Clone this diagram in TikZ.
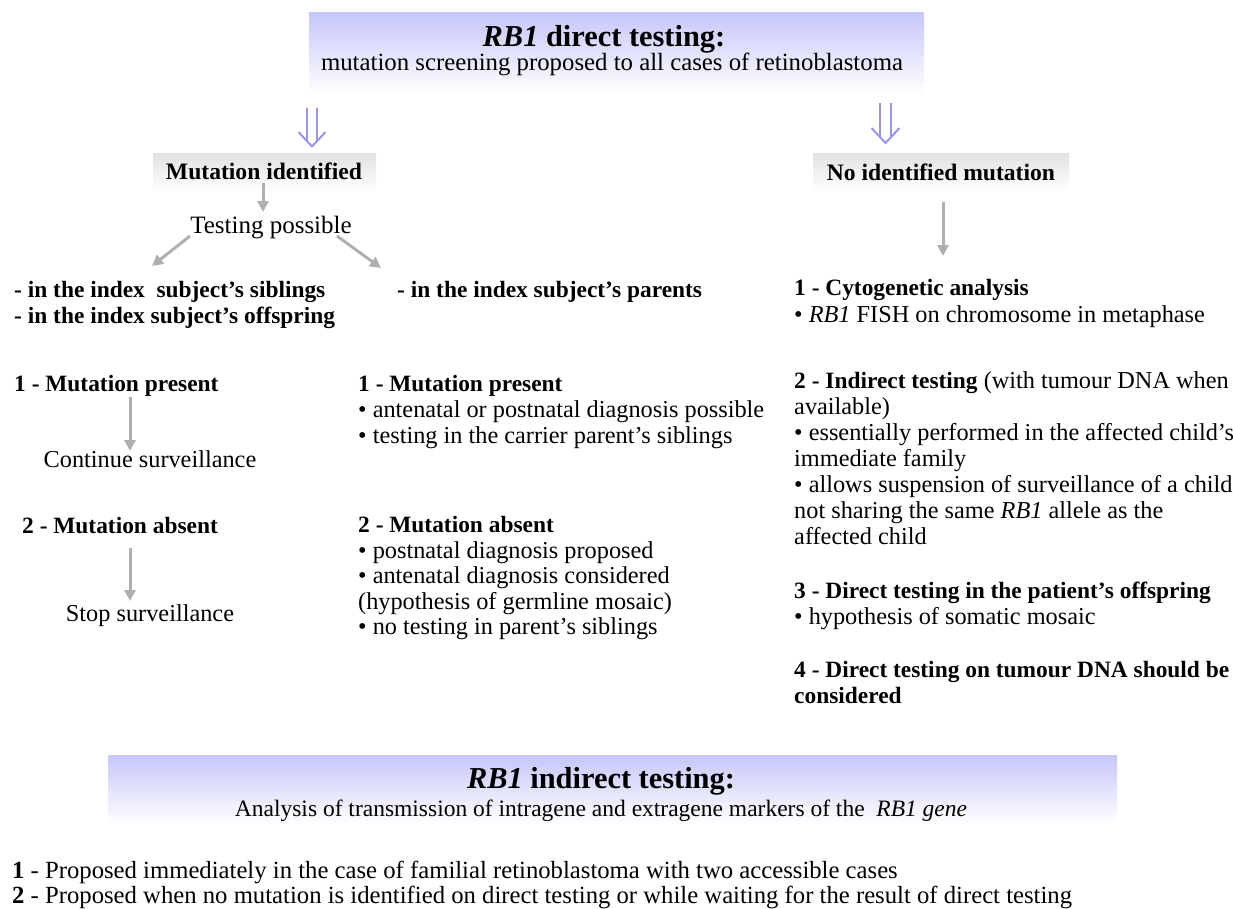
\documentclass[tikz,border=0pt]{standalone}
\usepackage{fontspec}
\setmainfont{Liberation Serif}
\usetikzlibrary{arrows.meta}
\definecolor{lav}{RGB}{198,198,250}
\definecolor{arrblue}{RGB}{150,150,240}
\definecolor{garr}{RGB}{175,175,175}
\definecolor{gbox}{RGB}{226,226,226}
\newcommand\bodyf{\fontsize{24.3}{26}\selectfont}
\newcommand\boldf{\fontsize{23.4}{26}\selectfont\bfseries}
\newcommand\botf{\fontsize{24.7}{26}\selectfont}
\newcommand\titf{\fontsize{30.4}{34}\selectfont\bfseries}
\newcommand\rbi{\textit{RB1}}
\newcommand\bb[1]{{\boldf #1}}
\begin{document}
\begin{tikzpicture}[x=1pt,y=-1pt,
  txt/.style={anchor=base west,inner sep=0pt,font=\bodyf},
  btxt/.style={anchor=base west,inner sep=0pt,font=\boldf},
  ctxt/.style={anchor=base,inner sep=0pt,font=\bodyf},
  garrow/.style={draw=garr,line width=3pt,-{Triangle[length=11pt,width=11pt]}},
  dbl/.style={draw=arrblue,line width=2pt},
  ]
\useasboundingbox[fill=white] (0,0) rectangle (1233,908);

% top banner
\shade[top color=lav,bottom color=white] (309,12) rectangle (924,94);
\node[anchor=base,inner sep=0pt,font=\titf] (t1) at (604,46) {\rbi{} direct testing:};
\node[anchor=base,inner sep=0pt,font=\fontsize{24.8}{26}\selectfont] (t1s) at (612,70) {mutation screening proposed to all cases of retinoblastoma};

% double arrows
\draw[dbl] (307,108) -- (307,140.5) (317,108) -- (317,140.5);
\draw[dbl,line join=miter] (298.5,132) -- (312,146.5) -- (325.5,132);
\draw[dbl] (880,103) -- (880,137) (891,103) -- (891,137);
\draw[dbl,line join=miter] (871.5,128) -- (885.5,143) -- (899.5,128);

% grey boxes
\shade[top color=gbox,bottom color=white] (153,153) rectangle (376,192);
\node[anchor=base,inner sep=0pt,font=\fontsize{23.6}{26}\selectfont\bfseries] (mi) at (264,179) {Mutation identified};
\shade[top color=gbox,bottom color=white] (813,153) rectangle (1069,192);
\node[anchor=base,inner sep=0pt,font=\fontsize{23.6}{26}\selectfont\bfseries] (nim) at (941,180) {No identified mutation};

% left branch
\node[anchor=base,inner sep=0pt,font=\fontsize{25}{26}\selectfont] (tp) at (271,233) {Testing possible};
\coordinate (a1s) at (263,183); \coordinate (a1e) at (263,212);
\draw[garrow] (a1s) -- (a1e);
\coordinate (a2s) at (190,236); \coordinate (a2e) at (152,266);
\draw[garrow] (a2s) -- (a2e);
\coordinate (a3s) at (337,236); \coordinate (a3e) at (381,268);
\draw[garrow] (a3s) -- (a3e);

\node[btxt] (s1) at (14,297) {- in the index\ \ subject's siblings};
\node[btxt] (s2) at (14,323) {- in the index subject's offspring};
\node[btxt] (p1) at (397,297) {- in the index subject's parents};

\node[btxt] (l1) at (14,391) {1 - Mutation present};
\coordinate (a4s) at (130,397); \coordinate (a4e) at (130,451);
\draw[garrow] (a4s) -- (a4e);
\node[ctxt] (l2) at (150,467) {Continue surveillance};
\node[btxt] (l3) at (22,533) {2 - Mutation absent};
\coordinate (a5s) at (130,548); \coordinate (a5e) at (130,601);
\draw[garrow] (a5s) -- (a5e);
\node[ctxt] (l4) at (150,621) {Stop surveillance};

% middle column
\node[btxt] (m1) at (358,391) {1 - Mutation present};
\node[txt] (m2) at (358,417) {\textbullet\ antenatal or postnatal diagnosis possible};
\node[txt] (m3) at (358,443) {\textbullet\ testing in the carrier parent's siblings};
\node[btxt] (m4) at (358,532) {2 - Mutation absent};
\node[txt] (m5) at (358,558) {\textbullet\ postnatal diagnosis proposed};
\node[txt] (m6) at (358,583) {\textbullet\ antenatal diagnosis considered};
\node[txt] (m7) at (358,609) {(hypothesis of germline mosaic)};
\node[txt] (m8) at (358,634) {\textbullet\ no testing in parent's siblings};

% right column
\coordinate (a6s) at (943,202); \coordinate (a6e) at (943,256);
\draw[garrow] (a6s) -- (a6e);
\node[btxt] (r1) at (794,295) {1 - Cytogenetic analysis};
\node[txt] (r2) at (794,322) {\textbullet\ \rbi{} FISH on chromosome in metaphase};
\node[txt] (r3) at (794,388) {\bb{2 - Indirect testing} (with tumour DNA when};
\node[txt] (r4) at (794,414) {available)};
\node[txt] (r5) at (794,440) {\textbullet\ essentially performed in the affected child's};
\node[txt] (r6) at (794,466) {immediate family};
\node[txt] (r7) at (794,492) {\textbullet\ allows suspension of surveillance of a child};
\node[txt] (r8) at (794,518) {not sharing the same \rbi{} allele as the};
\node[txt] (r9) at (794,544) {affected child};
\node[btxt] (r10) at (794,598) {3 - Direct testing in the patient's offspring};
\node[txt] (r11) at (794,624) {\textbullet\ hypothesis of somatic mosaic};
\node[btxt] (r12) at (794,677) {4 - Direct testing on tumour DNA should be};
\node[btxt] (r13) at (794,703) {considered};

% bottom banner
\shade[top color=lav,bottom color=white] (108,755) rectangle (1117,824);
\node[anchor=base,inner sep=0pt,font=\titf] (t2) at (601,788) {\rbi{} indirect testing:};
\node[anchor=base,inner sep=0pt,font=\fontsize{23.5}{26}\selectfont] (t2s) at (601,816) {Analysis of transmission of intragene and extragene markers of the\ \ \rbi{} \textit{gene}};
\node[anchor=base west,inner sep=0pt,font=\botf] (b1) at (12,878) {\textbf{1} - Proposed immediately in the case of familial retinoblastoma with two accessible cases};
\node[anchor=base west,inner sep=0pt,font=\botf] (b2) at (12,903) {\textbf{2} - Proposed when no mutation is identified on direct testing or while waiting for the result of direct testing};
\end{tikzpicture}
\end{document}
